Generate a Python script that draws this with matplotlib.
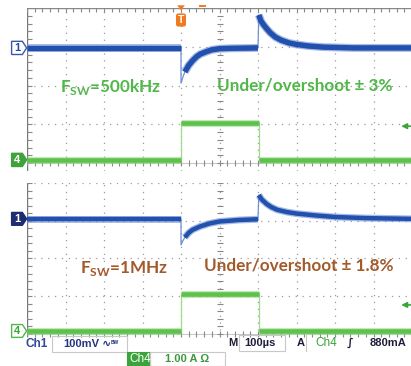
import numpy as np
import matplotlib
matplotlib.use('Agg')
import matplotlib.pyplot as plt
from matplotlib.patches import Polygon, Rectangle, FancyBboxPatch

plt.rcParams['mathtext.fontset'] = 'custom'
plt.rcParams['mathtext.rm'] = 'Lato'
plt.rcParams['mathtext.bf'] = 'Lato:bold'

W, H = 411, 366

# time in divisions (100 us/div), levels in divisions
blue1_t = [0, 4.0, 4.0, 4.05, 4.1, 4.2, 4.3, 4.4, 4.5, 4.65, 4.8, 5.0, 5.3, 6.0,
           6.02, 6.08, 6.15, 6.23, 6.32, 6.45, 6.6, 6.8, 7.0, 7.3, 7.7, 8.5, 10]
blue1_v = [2.97, 2.97, 2.06, 2.22, 2.35, 2.52, 2.64, 2.74, 2.81, 2.87, 2.92, 2.95, 2.96, 2.97,
           3.82, 3.66, 3.56, 3.46, 3.36, 3.25, 3.17, 3.10, 3.06, 3.02, 2.99, 2.97, 2.97]

blue2_t = [0, 4.0, 4.0, 4.05, 4.1, 4.2, 4.3, 4.5, 4.75, 5.0, 5.5, 6.0,
           6.02, 6.1, 6.23, 6.35, 6.5, 6.75, 7.0, 7.5, 8.0, 8.8, 10]
blue2_v = [3.05, 3.05, 2.36, 2.47, 2.56, 2.68, 2.76, 2.85, 2.93, 2.98, 3.02, 3.04,
           3.68, 3.56, 3.44, 3.36, 3.29, 3.23, 3.19, 3.14, 3.10, 3.07, 3.05]

green_t = [0, 4.0, 4.0, 6.02, 6.02, 10]
green1_v = [0.08, 0.08, 1.03, 1.03, 0.08, 0.08]
green2_v = [0.08, 0.08, 1.06, 1.06, 0.08, 0.08]

trig_level = [0.95, 0.77]

label_fsw = [r'F$_{\mathbf{SW}}$=500kHz', r'F$_{\mathbf{SW}}$=1MHz']
label_os = ['Under/overshoot ± 3%', 'Under/overshoot ± 1.8%']
label_col = ['#4fb848', '#a35a2b']

BLUE = '#2150ad'
BLUE_F = '#6f8fd6'
GREEN = '#5cc24a'
GREEN_F = '#9ddc8f'
GRID = '#9a9a9a'


def trace(ax, t, v, col, fringe, lw):
    t = np.array(t)
    v = np.array(v)
    ax.plot(t, v, color=fringe, lw=0.9, zorder=3)
    start = 0
    for i in range(1, len(t) + 1):
        if i == len(t) or t[i] - t[i - 1] < 0.05:
            ax.plot(t[start:i], v[start:i], color=fringe, lw=lw + 1.8, alpha=0.6,
                    solid_capstyle='butt', zorder=3)
            ax.plot(t[start:i], v[start:i], color=col, lw=lw,
                    solid_capstyle='butt', zorder=4)
            start = i


def setup(ax, top_border):
    ax.set_xlim(0, 10)
    ax.set_xticks([])
    ax.set_yticks([])
    for s in ax.spines.values():
        s.set_visible(False)
    for x in range(1, 11):
        ax.axvline(x, color=GRID, lw=0.9, dashes=(1, 4.5), zorder=1)
    for y in range(1, 5):
        if y == 4 and top_border:
            continue
        ax.axhline(y, color=GRID, lw=0.9, dashes=(1, 4.5), zorder=1)
    ax.axvline(0, color='#777777', lw=1.0, zorder=2)
    ax.axhline(0, color='#bbbbbb', lw=0.6, zorder=1)
    yt = np.arange(0, 4.01, 0.2)
    xt = np.arange(0, 10.01, 0.2)
    ax.plot(np.full(len(yt), 0.06), yt, ls='none', marker='_', ms=4, mew=0.8, color='#888888', zorder=2)
    ax.plot(np.full(len(yt), 5.0), yt, ls='none', marker='_', ms=4, mew=0.8, color='#888888', zorder=2)
    ax.plot(xt, np.zeros(len(xt)), ls='none', marker='|', ms=4, mew=0.8, color='#888888', zorder=2)
    if top_border:
        ax.axhline(4.0, color='#888888', lw=1.0, zorder=2)
        ax.plot(xt, np.full(len(xt), 3.95), ls='none', marker='|', ms=3, mew=0.8, color='#888888', zorder=2)


def ch_marker(ax, y, label, face, edge, txt):
    pts = [(-0.4, y - 0.17), (-0.12, y - 0.17), (-0.01, y), (-0.12, y + 0.17), (-0.4, y + 0.17)]
    ax.add_patch(Polygon(pts, closed=True, fc=face, ec=edge, lw=1.0, clip_on=False, zorder=6))
    ax.text(-0.26, y, label, color=txt, ha='center', va='center', fontsize=8,
            fontweight='bold', family='Liberation Sans', clip_on=False, zorder=7)


fig = plt.figure(figsize=(W / 100, H / 100), dpi=100)
fig.patch.set_facecolor('white')

# top panel: 0 div at 163 px, 38.75 px/div
ax1 = fig.add_axes([27 / W, 1 - 170.75 / H, 385 / W, 162.75 / H])
ax1.set_ylim(-0.2, 4.0)
# bottom panel: 0 div at 334 px, 37.75 px/div
ax2 = fig.add_axes([27 / W, 1 - 337.0 / H, 385 / W, 154.0 / H])
ax2.set_ylim(-0.08, 4.0)

setup(ax1, True)
setup(ax2, False)

trace(ax1, green_t, green1_v, GREEN, GREEN_F, 3.3)
trace(ax1, blue1_t, blue1_v, BLUE, BLUE_F, 3.9)
trace(ax2, green_t, green2_v, GREEN, GREEN_F, 3.3)
trace(ax2, blue2_t, blue2_v, BLUE, BLUE_F, 3.2)

ch_marker(ax1, blue1_v[0], '1', 'white', '#3a58b0', '#2a4aa8')
ch_marker(ax1, green1_v[0], '4', '#3fa33c', '#3fa33c', 'white')
ch_marker(ax2, blue2_v[0], '1', '#1e2c70', '#1e2c70', 'white')
ch_marker(ax2, green2_v[0], '4', 'white', '#4fb848', '#3fa33c')

# trigger marker
ORANGE = '#f07a22'
ax1.add_patch(Polygon([(3.9, 4.07), (4.1, 4.07), (4.0, 3.94)], closed=True, fc=ORANGE,
                      ec='none', clip_on=False, zorder=6))
ax1.add_patch(FancyBboxPatch((3.87, 3.52), 0.26, 0.34, boxstyle='round,pad=0,rounding_size=0.06',
                             fc=ORANGE, ec='none', clip_on=False, zorder=6, mutation_aspect=1))
ax1.text(4.0, 3.69, 'T', color='white', ha='center', va='center', fontsize=7.5,
         fontweight='bold', family='Liberation Sans', zorder=7)
ax1.plot([4.5, 4.62], [4.05, 4.05], color=ORANGE, lw=1.4, clip_on=False, zorder=6)

for ax, lvl in zip([ax1, ax2], trig_level):
    ax.annotate('', xy=(9.72, lvl), xytext=(10.0, lvl), annotation_clip=False,
                arrowprops=dict(arrowstyle='-|>', color='#3fa33c', lw=1.2, mutation_scale=8,
                                shrinkA=0, shrinkB=0))

# annotations
for ax, i, yb, yo, xf, xo in [(ax1, 0, 1.83, 1.88, 2.16, 7.21), (ax2, 1, 1.62, 1.67, 2.52, 7.06)]:
    ax.text(xf, yb, label_fsw[i], color=label_col[i], ha='center', va='baseline',
            fontsize=12.3, fontweight='bold', family='Lato', zorder=8)
    ax.text(xo, yo, label_os[i], color=label_col[i], ha='center', va='baseline',
            fontsize=12.3, fontweight='bold', family='Lato', zorder=8)


# readout row at the bottom
def ftxt(x, y, s, **kw):
    kw.setdefault('family', 'Liberation Sans')
    kw.setdefault('fontweight', 'bold')
    kw.setdefault('va', 'center')
    fig.text(x / W, 1 - y / H, s, **kw)


def fbox(x0, y0, x1, y1, fc='none', ec='#c8c8c8'):
    fig.add_artist(Rectangle((x0 / W, 1 - y1 / H), (x1 - x0) / W, (y1 - y0) / H,
                             transform=fig.transFigure, fc=fc, ec=ec, lw=0.8))


NAVY = '#22357f'
DARK = '#1d1d3a'
fbox(52, 336, 127, 352)
ftxt(25, 344, 'Ch1', color='#2d4a9c', fontsize=8.5)
ftxt(63, 344, '100mV', color=NAVY, fontsize=8)
ftxt(102, 344, '∿', color=NAVY, fontsize=8, family='DejaVu Sans')
ftxt(111, 342, 'BW', color=NAVY, fontsize=3.5)
fbox(127, 352, 150, 366, fc='#3aa33a', ec='#3aa33a')
ftxt(129, 359, 'Ch4', color='white', fontsize=8.5, fontweight='normal')
fbox(150, 352, 225, 366)
ftxt(165, 359, '1.00 A Ω', color='#3a9a3a', fontsize=8)
ftxt(228, 343, 'M', color=DARK, fontsize=8)
fbox(239, 335, 285, 351)
ftxt(244, 343, '100µs', color=DARK, fontsize=8)
ftxt(297, 343, 'A', color=DARK, fontsize=8)
fig.add_artist(plt.Line2D([306 / W, 306 / W], [1 - 335 / H, 1 - 351 / H], color='#c8c8c8', lw=0.8))
ftxt(315, 343, 'Ch4', color='#3aa33a', fontsize=8.5, fontweight='normal')
ftxt(347, 343, '∫', color=DARK, fontsize=8, family='DejaVu Sans', style='italic')
ftxt(370, 343, '880mA', color=DARK, fontsize=8)

fig.savefig('out.png', dpi=100, facecolor='white')
